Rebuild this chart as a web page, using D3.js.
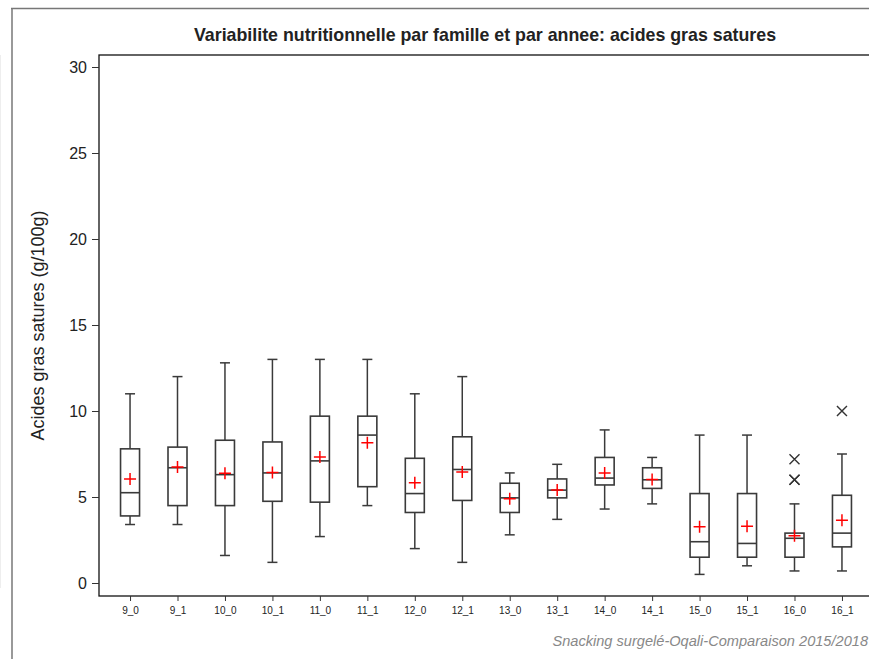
<!DOCTYPE html>
<html><head><meta charset="utf-8">
<script src="https://cdn.jsdelivr.net/npm/d3@7"></script>
<style>body{margin:0;background:#fff}svg{display:block}</style>
</head><body>
<svg id="c" width="869" height="659"></svg>
<script>
const categories = ["9_0","9_1","10_0","10_1","11_0","11_1","12_0","12_1","13_0","13_1","14_0","14_1","15_0","15_1","16_0","16_1"];
const whiskerLow  = [3.4, 3.4, 1.6, 1.2, 2.7, 4.5, 2.0, 1.2, 2.8, 3.7, 4.3, 4.6, 0.5, 1.0, 0.7, 0.7];
const q1          = [3.9, 4.5, 4.5, 4.75, 4.7, 5.6, 4.1, 4.8, 4.1, 4.95, 5.7, 5.5, 1.5, 1.5, 1.5, 2.1];
const median      = [5.25, 6.7, 6.3, 6.4, 7.1, 8.6, 5.2, 6.6, 4.95, 5.4, 6.1, 6.0, 2.4, 2.3, 2.6, 2.9];
const q3          = [7.8, 7.9, 8.3, 8.2, 9.7, 9.7, 7.25, 8.5, 5.8, 6.05, 7.3, 6.7, 5.2, 5.2, 2.9, 5.1];
const whiskerHigh = [11.0, 12.0, 12.8, 13.0, 13.0, 13.0, 11.0, 12.0, 6.4, 6.9, 8.9, 7.3, 8.6, 8.6, 4.6, 7.5];
const means       = [6.05, 6.75, 6.38, 6.43, 7.33, 8.16, 5.83, 6.45, 4.9, 5.4, 6.4, 6.02, 3.27, 3.3, 2.75, 3.65];
const outliers    = [[],[],[],[],[],[],[],[],[],[],[],[],[],[],[7.2, 6.0, 6.0],[10.0]];
const yTicks = [0, 5, 10, 15, 20, 25, 30];
const titleText = "Variabilite nutritionnelle par famille et par annee: acides gras satures";
const yLabel = "Acides gras satures (g/100g)";
const footnote = "Snacking surgelé-Oqali-Comparaison 2015/2018";

const svg = d3.select("#c");
const font = "'Liberation Sans', Arial, sans-serif";
const L = 99, T = 55, R = 873, B = 596;

// outer frame lines
svg.append("line").attr("x1",0.5).attr("x2",0.5).attr("y1",55).attr("y2",588).attr("stroke","#eee").attr("stroke-width",1);
svg.append("line").attr("x1",12).attr("x2",12).attr("y1",8).attr("y2",659).attr("stroke","#999").attr("stroke-width",2);
svg.append("line").attr("x1",11).attr("x2",869).attr("y1",8.5).attr("y2",8.5).attr("stroke","#777").attr("stroke-width",1.3);

const y = d3.scaleLinear().domain([0,30]).range([583,67]);
const x = d3.scalePoint().domain(categories).range([L,R]).padding(0.654);

// plot frame
svg.append("rect").attr("x",L).attr("y",T).attr("width",R-L).attr("height",B-T)
  .attr("fill","none").attr("stroke","#111").attr("stroke-width",1.3);

// y axis
const ya = svg.append("g").attr("transform",`translate(${L},0)`)
  .call(d3.axisLeft(y).tickValues(yTicks).tickSize(7).tickPadding(5).tickFormat(d3.format("d")));
ya.select(".domain").remove();
ya.selectAll("line").attr("stroke","#333");
ya.selectAll("text").attr("font-family",font).attr("font-size",16).attr("fill","#222");

// x axis
const xa = svg.append("g").attr("transform",`translate(0,${B})`)
  .call(d3.axisBottom(x).tickSize(5).tickPadding(6));
xa.select(".domain").remove();
xa.selectAll("line").attr("stroke","#333");
xa.selectAll("text").attr("font-family",font).attr("font-size",10).attr("fill","#222");

// title
svg.append("text").attr("x",(L+R)/2 - 1).attr("y",41).attr("text-anchor","middle")
  .attr("font-family",font).attr("font-weight","bold").attr("font-size",17.8).attr("fill","#222").text(titleText);

// y label
svg.append("text").attr("transform",`translate(44,${(T+B)/2}) rotate(-90)`).attr("text-anchor","middle")
  .attr("font-family",font).attr("font-size",18).attr("fill","#222").text(yLabel);

// footnote
svg.append("text").attr("x",868).attr("y",646).attr("text-anchor","end")
  .attr("font-family",font).attr("font-style","italic").attr("font-size",14.6).attr("fill","#888").text(footnote);

// boxes
const bw = 19, cw = 10;
const g = svg.append("g");
categories.forEach((c,i)=>{
  const cx = x(c);
  const gg = g.append("g");
  const stroke = "#3a3a3a";
  gg.append("line").attr("x1",cx).attr("x2",cx).attr("y1",y(q3[i])).attr("y2",y(whiskerHigh[i])).attr("stroke",stroke).attr("stroke-width",1.5);
  gg.append("line").attr("x1",cx).attr("x2",cx).attr("y1",y(q1[i])).attr("y2",y(whiskerLow[i])).attr("stroke",stroke).attr("stroke-width",1.5);
  gg.append("line").attr("x1",cx-cw/2).attr("x2",cx+cw/2).attr("y1",y(whiskerHigh[i])).attr("y2",y(whiskerHigh[i])).attr("stroke",stroke).attr("stroke-width",1.5);
  gg.append("line").attr("x1",cx-cw/2).attr("x2",cx+cw/2).attr("y1",y(whiskerLow[i])).attr("y2",y(whiskerLow[i])).attr("stroke",stroke).attr("stroke-width",1.5);
  gg.append("rect").attr("x",cx-bw/2).attr("y",y(q3[i])).attr("width",bw).attr("height",y(q1[i])-y(q3[i]))
    .attr("fill","#fff").attr("stroke",stroke).attr("stroke-width",1.6);
  gg.append("line").attr("x1",cx-bw/2).attr("x2",cx+bw/2).attr("y1",y(median[i])).attr("y2",y(median[i])).attr("stroke",stroke).attr("stroke-width",1.6);
  // mean plus
  const my = y(means[i]), s = 6;
  gg.append("path").attr("d",`M${cx-s},${my}H${cx+s}M${cx},${my-s}V${my+s}`).attr("stroke","#f00").attr("stroke-width",1.5).attr("fill","none");
  // outliers
  outliers[i].forEach(v=>{
    const oy = y(v), o = 5;
    gg.append("path").attr("d",`M${cx-o},${oy-o}L${cx+o},${oy+o}M${cx-o},${oy+o}L${cx+o},${oy-o}`)
      .attr("stroke","#333").attr("stroke-width",1.4).attr("fill","none");
  });
});
</script>
</body></html>
